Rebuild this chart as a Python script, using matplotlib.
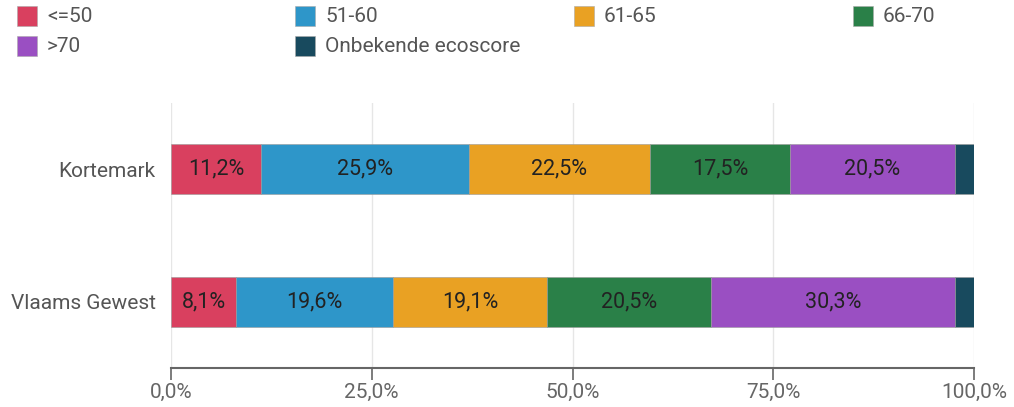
import matplotlib.pyplot as plt
from matplotlib.patches import Rectangle

plt.rcParams['font.family'] = ['Roboto', 'DejaVu Sans']

regions = ['Kortemark', 'Vlaams Gewest']
series = ['<=50', '51-60', '61-65', '66-70', '>70', 'Onbekende ecoscore']
values = {
    '<=50': [11.2, 8.1],
    '51-60': [25.9, 19.6],
    '61-65': [22.5, 19.1],
    '66-70': [17.5, 20.5],
    '>70': [20.5, 30.3],
    'Onbekende ecoscore': [2.4, 2.4],
}
colors = ['#d9405f', '#2e96c9', '#e9a123', '#2a8048', '#9a4fc2', '#184a5e']
xticks = [0, 25, 50, 75, 100]
xticklabels = ['0,0%', '25,0%', '50,0%', '75,0%', '100,0%']

fig = plt.figure(figsize=(10.14, 4.07), dpi=100)
ax = fig.add_axes([0.1686, 0.0958, 0.792, 0.651])

ypos = list(range(len(regions)))
left = [0.0] * len(regions)
for name, c in zip(series, colors):
    vals = values[name]
    ax.barh(ypos, vals, left=left, height=0.38, color=c,
            edgecolor='#9a9a9a', linewidth=0.4, zorder=3)
    if name != 'Onbekende ecoscore':
        for y, l, v in zip(ypos, left, vals):
            ax.text(l + v / 2, y, f'{v:.1f}%'.replace('.', ','),
                    ha='center', va='center', fontsize=15.5, color='#222222', zorder=4)
    left = [l + v for l, v in zip(left, vals)]

ax.set_xlim(0, 100)
ax.set_ylim(1.5, -0.5)
ax.set_yticks(ypos)
ax.set_yticklabels(regions, fontsize=15, color='#555555')
ax.tick_params(axis='y', length=0, pad=11)
ax.set_xticks(xticks)
ax.set_xticklabels(xticklabels, fontsize=15, color='#666666')
ax.tick_params(axis='x', length=8.5, width=1.2, color='#666666', pad=2)
ax.grid(axis='x', color='#e6e6e6', linewidth=1, zorder=0)
for s in ['top', 'right', 'left']:
    ax.spines[s].set_visible(False)
ax.spines['bottom'].set_color('#666666')
ax.spines['bottom'].set_linewidth(1.5)

# legend laid out in a 4-column grid as in the original
W, H = 1014, 407
col_x = [17, 295, 574, 853]
row_y = [16, 46]
for i, (name, c) in enumerate(zip(series, colors)):
    cx = col_x[i % 4]
    cy = row_y[i // 4]
    fig.patches.append(Rectangle((cx / W, (H - cy - 10) / H), 20 / W, 20 / H,
                                 transform=fig.transFigure, facecolor=c,
                                 edgecolor='#aaaaaa', linewidth=0.4))
    fig.text((cx + 30) / W, (H - cy) / H, name, fontsize=15,
             color='#555555', va='center', ha='left')

fig.savefig('out.png', dpi=100)
